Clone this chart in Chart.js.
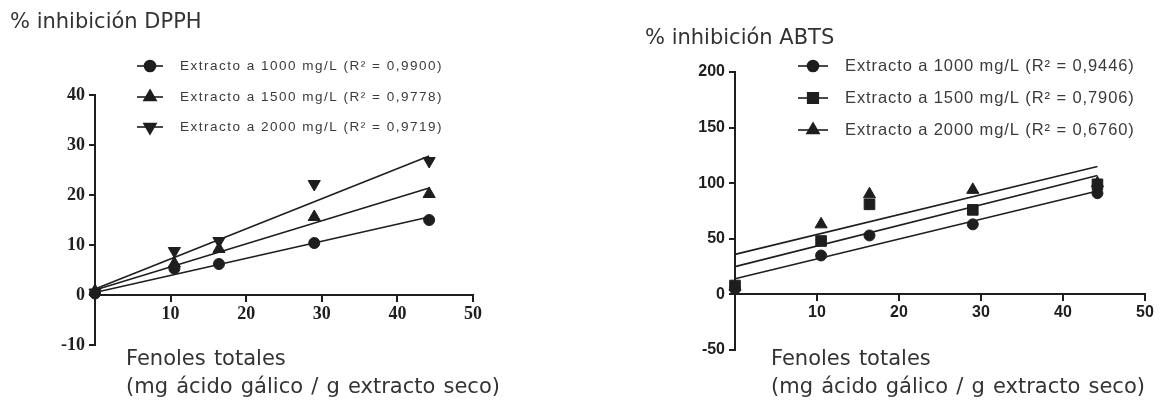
<!DOCTYPE html>
<html>
<head>
<meta charset="utf-8">
<script src="https://cdn.jsdelivr.net/npm/chart.js@4.4.1/dist/chart.umd.min.js"></script>
<style>
  body { margin: 0; background: #fff; }
  #wrap { position: relative; width: 1163px; height: 400px; overflow: hidden; }
  .box { position: absolute; top: 0; height: 400px; }
  .lbl { position: absolute; font-family: "DejaVu Sans", Verdana, sans-serif; color: #333; white-space: nowrap; }
  .xt { font-size: 21px; line-height: 28px; top: 344px; word-spacing: 1.5px; }
</style>
</head>
<body>
<div id="wrap">
  <div class="box" style="left:0;width:580px"><canvas id="dpph" width="580" height="400"></canvas></div>
  <div class="box" style="left:580px;width:583px"><canvas id="abts" width="583" height="400"></canvas></div>
  <div class="lbl" style="left:10px;top:9px;font-size:21px">% inhibición DPPH</div>
  <div class="lbl" style="left:645px;top:25px;font-size:21px">% inhibición ABTS</div>
  <div class="lbl xt" style="left:126px">Fenoles totales<br>(mg ácido gálico / g extracto seco)</div>
  <div class="lbl xt" style="left:771px">Fenoles totales<br>(mg ácido gálico / g extracto seco)</div>
</div>
<script>
// x values shared by both assays (mg ácido gálico / g extracto seco)
var phenols = [0, 10.5, 16.4, 29.0, 44.2];
var fitX = [0, 44.2];

// % inhibición DPPH
var dpphLabels = [
  'Extracto a 1000 mg/L (R² = 0,9900)',
  'Extracto a 1500 mg/L (R² = 0,9778)',
  'Extracto a 2000 mg/L (R² = 0,9719)'
];
var dpph1000 = [0.3, 5.3, 6.2, 10.4, 15.0];
var dpph1500 = [0.8, 6.3, 9.2, 15.6, 20.2];
var dpph2000 = [0.5, 8.8, 10.8, 22.2, 26.8];
var dpphFit1000 = [0.5, 15.6];
var dpphFit1500 = [1.0, 21.4];
var dpphFit2000 = [1.2, 27.8];

// % inhibición ABTS
var abtsLabels = [
  'Extracto a 1000 mg/L (R² = 0,9446)',
  'Extracto a 1500 mg/L (R² = 0,7906)',
  'Extracto a 2000 mg/L (R² = 0,6760)'
];
var abts1000 = [5, 35, 53, 63, 91];
var abts1500 = [8, 48, 81, 76, 99];
var abts2000 = [7, 63, 90, 94, 100];
var abtsFit1000 = [14, 93];
var abtsFit1500 = [25, 107];
var abtsFit2000 = [36, 115];

var INK = '#1e1e1e';

function points(ys) {
  return ys.map(function(y, i) { return {x: phenols[i], y: y}; });
}

function fitLine(ys) {
  return ys.map(function(y, i) { return {x: fitX[i], y: y}; });
}

function markers(label, ys, style, radius, rotation) {
  return {
    label: label,
    data: points(ys),
    pointStyle: style,
    pointRadius: radius,
    pointRotation: rotation || 0,
    pointBackgroundColor: INK,
    pointBorderColor: INK,
    pointBorderWidth: 1,
    showLine: false,
    clip: false,
    inKey: true
  };
}

function fit(ys) {
  return {
    data: fitLine(ys),
    showLine: true,
    pointRadius: 0,
    borderColor: INK,
    borderWidth: 1.6,
    clip: false
  };
}

// legend drawn inside the plot: short line, marker, label
var keyPlugin = {
  id: 'keyBox',
  afterDraw: function(chart, args, opts) {
    var ctx = chart.ctx;
    var row = 0;
    ctx.save();
    chart.data.datasets.forEach(function(ds) {
      if (!ds.inKey) return;
      var y = opts.rows[row++];
      ctx.strokeStyle = INK;
      ctx.lineWidth = 1.6;
      ctx.beginPath();
      ctx.moveTo(opts.x - opts.half, y);
      ctx.lineTo(opts.x + opts.half, y);
      ctx.stroke();
      ctx.fillStyle = INK;
      Chart.helpers.drawPoint(ctx, {
        pointStyle: ds.pointStyle,
        radius: ds.pointRadius,
        rotation: ds.pointRotation,
        borderWidth: 1
      }, opts.x, y);
      ctx.fillStyle = '#3a3a3a';
      ctx.font = opts.font;
      ctx.letterSpacing = opts.spacing;
      ctx.textBaseline = 'middle';
      ctx.fillText(ds.label, opts.textX, y);
    });
    ctx.restore();
  }
};

function axes(yMin, yMax, yStep, yWidth, tickFont) {
  var grid = { drawOnChartArea: false, color: INK, lineWidth: 2, tickLength: 6 };
  var border = { color: INK, width: 2 };
  return {
    x: {
      type: 'linear',
      min: 0,
      max: 50,
      position: { y: 0 },
      grid: grid,
      border: border,
      ticks: {
        stepSize: 10,
        color: INK,
        font: tickFont,
        padding: 3,
        maxRotation: 0,
        callback: function(v) { return v === 0 ? '' : v; }
      }
    },
    y: {
      type: 'linear',
      min: yMin,
      max: yMax,
      grid: grid,
      border: border,
      ticks: { stepSize: yStep, color: INK, font: tickFont, padding: 4 },
      afterFit: function(scale) { scale.width = yWidth; }
    }
  };
}

new Chart(document.getElementById('dpph'), {
  type: 'scatter',
  data: {
    datasets: [
      markers(dpphLabels[0], dpph1000, 'circle', 5.5),
      markers(dpphLabels[1], dpph1500, 'triangle', 7),
      markers(dpphLabels[2], dpph2000, 'triangle', 7, 180),
      fit(dpphFit1000),
      fit(dpphFit1500),
      fit(dpphFit2000)
    ]
  },
  options: {
    responsive: false,
    animation: false,
    layout: { padding: { left: 0, top: 95, right: 107, bottom: 55 } },
    plugins: {
      legend: { display: false },
      tooltip: { enabled: false },
      keyBox: {
        x: 150, half: 13, textX: 180, rows: [66, 97, 127],
        font: '13.5px "Liberation Sans", Arial, sans-serif', spacing: '1.5px'
      }
    },
    scales: axes(-10, 40, 10, 95, { family: '"Liberation Serif", "Times New Roman", serif', size: 18, weight: 'bold' })
  },
  plugins: [keyPlugin]
});

new Chart(document.getElementById('abts'), {
  type: 'scatter',
  data: {
    datasets: [
      markers(abtsLabels[0], abts1000, 'circle', 5.5),
      markers(abtsLabels[1], abts1500, 'rect', 7.5),
      markers(abtsLabels[2], abts2000, 'triangle', 7),
      fit(abtsFit1000),
      fit(abtsFit1500),
      fit(abtsFit2000)
    ]
  },
  options: {
    responsive: false,
    animation: false,
    layout: { padding: { left: 0, top: 72, right: 18, bottom: 50 } },
    plugins: {
      legend: { display: false },
      tooltip: { enabled: false },
      keyBox: {
        x: 233, half: 15, textX: 265, rows: [66, 98, 130],
        font: '16.5px "Liberation Sans", Arial, sans-serif', spacing: '0.9px'
      }
    },
    scales: axes(-50, 200, 50, 155, { family: '"Liberation Sans", Arial, sans-serif', size: 16, weight: 'bold' })
  },
  plugins: [keyPlugin]
});
</script>
</body>
</html>
